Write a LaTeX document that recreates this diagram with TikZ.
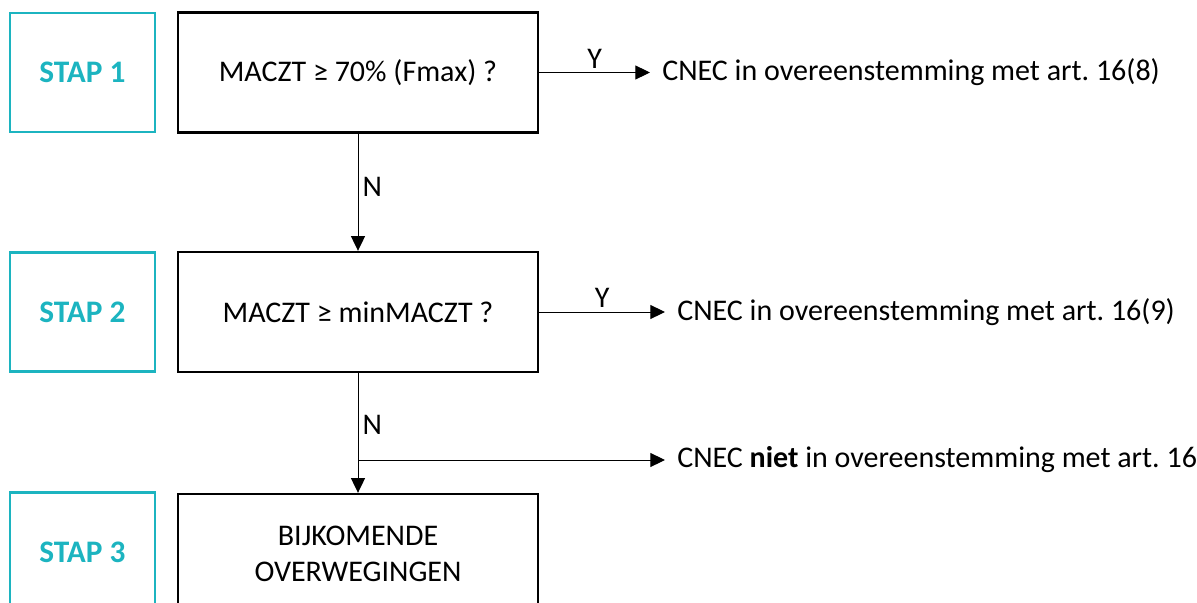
\documentclass[tikz,border=0pt]{standalone}
\usepackage{fontspec}
\setmainfont{Carlito}
\usetikzlibrary{arrows.meta,positioning}
\frenchspacing

\definecolor{stapkleur}{HTML}{1CB4C0}

\tikzset{
  stapbox/.style={draw=stapkleur, line width=1.6pt, minimum width=108.75pt,
    minimum height=89.25pt, text=stapkleur, font=\fontsize{23.5}{27}\selectfont\bfseries},
  vraagbox/.style={draw=black, line width=1.8pt, minimum width=270pt,
    minimum height=90pt, align=center, font=\fontsize{22.5}{27}\selectfont},
  uitkomst/.style={anchor=west, inner xsep=9pt, font=\fontsize{22.5}{27}\selectfont},
  pijl/.style={line width=0.75pt, -{Triangle[length=11pt,width=10.5pt]}},
  keuze/.style={font=\fontsize{22.5}{27}\selectfont, inner sep=3pt}
}

\begin{document}
\begin{tikzpicture}[x=0.75pt,y=-0.75pt]
\useasboundingbox (0,0) rectangle (1197,603);

% stappen
\node[stapbox] (stap1) at (82.5,72.5) {STAP 1};
\node[stapbox] (stap2) at (82.5,312) {STAP 2};
\node[stapbox] (stap3) at (82.5,552) {STAP 3};

% vragen
\node[vraagbox] (vraag1) at (358,72.5) {MACZT ≥ 70\% (Fmax) ?};
\node[vraagbox] (vraag2) at (358,312) {MACZT ≥ minMACZT ?};
\node[vraagbox] (besluit) at (358,554) {BIJKOMENDE\\OVERWEGINGEN};

% uitkomsten
\node[uitkomst] (uit1) at (650,72.5) {CNEC in overeenstemming met art. 16(8)};
\node[uitkomst] (uit2) at (665,312) {CNEC in overeenstemming met art. 16(9)};
\node[uitkomst] (uit3) at (665,460) {CNEC \textbf{niet} in overeenstemming met art. 16};

\coordinate (tak) at (358,460);

% pijlen
\draw[pijl] (vraag1.east) -- node[keuze, above] {Y} (uit1.west);
\draw[pijl] (vraag2.east) -- node[keuze, above] {Y} (uit2.west);
\draw[pijl] (vraag1.south) -- node[keuze, right, pos=0.45] {N} (vraag2.north);
\draw[pijl] (vraag2.south) -- node[keuze, right, pos=0.43] {N} (besluit.north);
\draw[pijl] (tak) -- (uit3.west);

\end{tikzpicture}
\end{document}
